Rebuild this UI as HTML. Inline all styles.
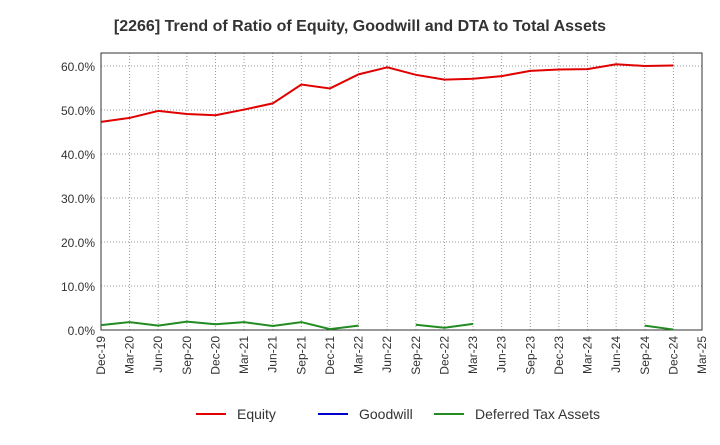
<!DOCTYPE html>
<html><head><meta charset="utf-8"><style>
body{margin:0;background:#fff;font-family:"Liberation Sans",sans-serif;}
</style></head><body>
<svg width="720" height="440" xmlns="http://www.w3.org/2000/svg">
<text x="360" y="31" text-anchor="middle" font-size="16" font-weight="bold" fill="#333">[2266]  Trend of Ratio of Equity, Goodwill and DTA to Total Assets</text>
<g id="grid"></g><g id="axes"></g><g id="series"></g>
<g font-size="14" fill="#333">
<line x1="196" y1="414" x2="226" y2="414" stroke="#e00000" stroke-width="2"/><text x="237" y="419">Equity</text>
<line x1="318" y1="414" x2="348" y2="414" stroke="#0000cc" stroke-width="2"/><text x="359" y="419">Goodwill</text>
<line x1="434" y1="414" x2="464" y2="414" stroke="#228b22" stroke-width="2"/><text x="475" y="419">Deferred Tax Assets</text>
</g>
</svg>
<script>
const categories=["Dec-19","Mar-20","Jun-20","Sep-20","Dec-20","Mar-21","Jun-21","Sep-21","Dec-21","Mar-22","Jun-22","Sep-22","Dec-22","Mar-23","Jun-23","Sep-23","Dec-23","Mar-24","Jun-24","Sep-24","Dec-24","Mar-25"];
const equity=[47.3,48.2,49.8,49.1,48.8,50.1,51.5,55.8,54.9,58.1,59.7,58.0,56.9,57.1,57.7,58.9,59.2,59.3,60.4,60.0,60.1,null];
const goodwill=[null,null,null,null,null,null,null,null,null,null,null,null,null,null,null,null,null,null,null,null,null,null];
const dta=[1.1,1.8,1.0,1.9,1.3,1.8,0.9,1.8,0.2,1.0,null,1.2,0.5,1.4,null,null,null,null,null,1.0,0.1,null];
const yTicks=[0,10,20,30,40,50,60];
const L=101,R=702,T=53,B=330;
const x=i=>L+(R-L)*i/(categories.length-1);
const y=v=>B-(B-66)*v/60;
const ns="http://www.w3.org/2000/svg";
function mk(tag,attrs,parent){const e=document.createElementNS(ns,tag);for(const k in attrs)e.setAttribute(k,attrs[k]);parent.appendChild(e);return e;}
const grid=document.getElementById('grid'),axes=document.getElementById('axes'),ser=document.getElementById('series');
yTicks.forEach(t=>{
 const l=mk('line',{x1:L,x2:R,y1:y(t),y2:y(t),stroke:'#999','stroke-dasharray':'1,2'},grid);
 
 
 const tx=mk('text',{x:L-6,y:y(t)+5,'text-anchor':'end','font-size':12,fill:'#333'},axes);
 tx.textContent=t.toFixed(1)+'%';
 
 
});
categories.forEach((c,i)=>{
 const l=mk('line',{x1:x(i),x2:x(i),y1:T,y2:B,stroke:'#999','stroke-dasharray':'1,2'},grid);
 
 
 const tx=mk('text',{transform:`translate(${x(i)+4},${B+6}) rotate(-90)`,'text-anchor':'end','font-size':12,fill:'#333'},axes);
 tx.textContent=c;
 
 
});
const frame=mk('rect',{x:L,y:T,width:R-L,height:B-T,fill:'none',stroke:'#333'},axes);


function draw(vals,color,name){
 let seg=[];const segs=[];
 vals.forEach((v,i)=>{if(v==null){if(seg.length)segs.push(seg);seg=[];}else seg.push(x(i)+','+y(v));});
 if(seg.length)segs.push(seg);
 segs.forEach(s=>{if(s.length<2)return;
  const p=mk('polyline',{points:s.join(' '),fill:'none',stroke:color,'stroke-width':2},ser);
  
  
 });
}
draw(goodwill,'#0000cc','goodwill-line');
draw(dta,'#228b22','dta-line');
draw(equity,'#e00000','equity-line');
</script>
</body></html>
